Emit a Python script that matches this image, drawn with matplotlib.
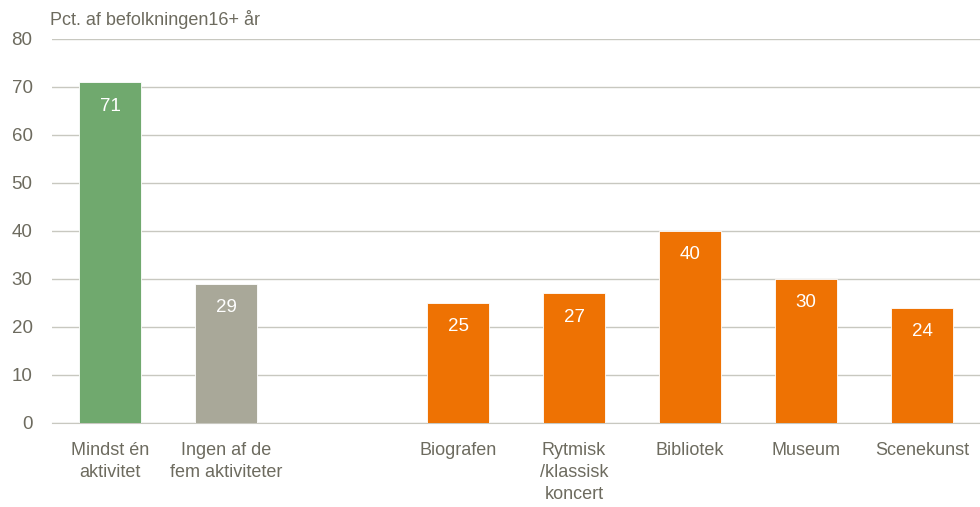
import numpy as np
from matplotlib import pyplot as plt

plt.rcParams['font.family'] = ['Liberation Sans', 'DejaVu Sans']

categories = ["Mindst én\naktivitet", "Ingen af de\nfem aktiviteter", "",
              "Biografen", "Rytmisk\n/klassisk\nkoncert", "Bibliotek", "Museum", "Scenekunst"]
values = [71, 29, None, 25, 27, 40, 30, 24]
colors = ["#70A96E", "#A9A899", "none", "#EE7203", "#EE7203", "#EE7203", "#EE7203", "#EE7203"]
yticks = [0, 10, 20, 30, 40, 50, 60, 70, 80]

text_color = "#6D6B5F"
grid_color = "#C8C8C0"

fig = plt.figure(figsize=(9.8, 5.07), dpi=100)
ax = fig.add_axes([0.0531, 0.1657, 0.9469, 0.7574])

x = np.arange(len(categories))
for xi, v, c in zip(x, values, colors):
    if v is None:
        continue
    ax.bar(xi, v, width=0.54, color=c, edgecolor="white", linewidth=0.6, zorder=3)
    ax.text(xi, v - 5.0, f"{v}", ha="center", va="center", color="white", fontsize=13.5, zorder=4)

ax.set_xlim(-0.5, len(categories) - 0.5)
ax.set_ylim(0, 80)
ax.set_yticks(yticks)
ax.yaxis.grid(True, color=grid_color, linewidth=1, zorder=0)
ax.set_xticks(x)
ax.set_xticklabels(categories, fontsize=13, color=text_color, linespacing=1.35)
ax.tick_params(axis="y", labelsize=13.5, labelcolor=text_color, length=0, pad=14)
ax.tick_params(axis="x", length=0, pad=14)
for s in ["top", "right", "left"]:
    ax.spines[s].set_visible(False)
ax.spines["bottom"].set_color(grid_color)

fig.text(0.051, 0.962, "Pct. af befolkningen16+ år", fontsize=13, color=text_color,
         ha="left", va="center")

plt.savefig("out.png", dpi=100)
